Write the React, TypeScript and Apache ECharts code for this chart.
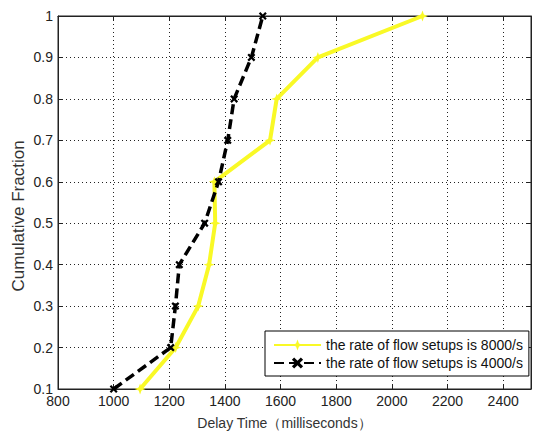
import React, { useEffect, useRef } from "react";
import * as echarts from "echarts";

const fractions = [0.1, 0.2, 0.3, 0.4, 0.5, 0.6, 0.7, 0.8, 0.9, 1.0];
const delay8000 = [1095, 1223, 1304, 1343, 1365, 1362, 1562, 1586, 1734, 2110];
const delay4000 = [1000, 1205, 1222, 1236, 1327, 1377, 1410, 1433, 1495, 1536];
const seriesNames = ["the rate of flow setups is 8000/s", "the rate of flow setups is 4000/s"];
const xTitle = "Delay Time（milliseconds）";
const yTitle = "Cumulative Fraction";

const FONT = "'Liberation Sans', Arial, sans-serif";

export default function App() {
  const ref = useRef<HTMLDivElement>(null);
  useEffect(() => {
    document.body.style.margin = "0";
    if (!ref.current) return;
    const chart = echarts.init(ref.current, null, { renderer: "svg" });
    const starPath = "path://M5,0L6.3,3.7L10,5L6.3,6.3L5,10L3.7,6.3L0,5L3.7,3.7Z";
    const xPath = "path://M2,0L5,3L8,0L10,2L7,5L10,8L8,10L5,7L2,10L0,8L3,5L0,2Z";
    const yellow = "#f9f926";
    chart.setOption({
      animation: false,
      backgroundColor: "#fff",
      textStyle: { fontFamily: FONT },
      grid: {
        left: 58,
        top: 16,
        right: -5,
        bottom: 40,
        show: true,
        borderColor: "#222",
        borderWidth: 1,
        backgroundColor: "#fff",
      },
      graphic: [
        {
          type: "text",
          x: 18,
          y: 216,
          rotation: Math.PI / 2,
          style: {
            text: yTitle,
            fontSize: 17,
            fontFamily: FONT,
            fill: "#333",
            align: "center",
            verticalAlign: "middle",
          },
        },
      ],
      legend: {
        orient: "vertical",
        left: 265,
        top: 331,
        itemWidth: 47,
        itemHeight: 14,
        itemGap: 4,
        padding: [7, 6, 6, 8],
        borderColor: "#000",
        borderWidth: 1,
        borderRadius: 0,
        backgroundColor: "#fff",
        textStyle: { fontSize: 14, color: "#111", fontFamily: FONT },
        data: seriesNames,
      },
      xAxis: [
        {
          type: "value",
          min: 800,
          max: 2500,
          interval: 200,
          position: "bottom",
          name: xTitle,
          nameLocation: "middle",
          nameGap: 27,
          nameTextStyle: { fontSize: 14, color: "#333", padding: [0, 20, 0, 0], fontFamily: FONT },
          axisLine: { show: true, lineStyle: { color: "#222", width: 1 } },
          axisTick: { show: true, inside: true, length: 5, lineStyle: { color: "#222" } },
          axisLabel: {
            fontSize: 14,
            color: "#222",
            margin: 5,
            fontFamily: FONT,
            formatter: (v: number) => (v > 2400 ? "" : String(v)),
          },
          splitLine: { show: true, lineStyle: { color: "#222", type: [1, 3], width: 1 } },
        },
        {
          type: "value",
          min: 800,
          max: 2500,
          interval: 200,
          position: "top",
          axisLine: { show: true, lineStyle: { color: "#222", width: 1 } },
          axisTick: { show: true, inside: true, length: 5, lineStyle: { color: "#222" } },
          axisLabel: { show: false },
          splitLine: { show: false },
        },
      ],
      yAxis: [
        {
          type: "value",
          min: 0.1,
          max: 1,
          interval: 0.1,
          axisLine: { show: true, lineStyle: { color: "#222", width: 1 } },
          axisTick: { show: true, inside: true, length: 5, lineStyle: { color: "#222" } },
          axisLabel: {
            fontSize: 14,
            color: "#222",
            margin: 5,
            fontFamily: FONT,
            formatter: (v: number) => String(Math.round(v * 10) / 10),
          },
          splitLine: { show: true, lineStyle: { color: "#222", type: [1, 3], width: 1 } },
        },
        {
          type: "value",
          min: 0.1,
          max: 1,
          interval: 0.1,
          position: "right",
          axisLine: { show: true, lineStyle: { color: "#222", width: 1 } },
          axisTick: { show: true, inside: true, length: 5 },
          axisLabel: { show: false },
          splitLine: { show: false },
        },
      ],
      series: [
        {
          name: seriesNames[0],
          type: "line",
          data: delay8000.map((d, i) => [d, fractions[i]]),
          symbol: starPath,
          symbolSize: 11,
          showSymbol: true,
          lineStyle: { color: yellow, width: 4 },
          itemStyle: { color: yellow },
          z: 2,
        },
        {
          name: seriesNames[1],
          type: "line",
          data: delay4000.map((d, i) => [d, fractions[i]]),
          symbol: xPath,
          symbolSize: 8,
          showSymbol: true,
          lineStyle: { color: "#000", width: 3.5, type: [10, 5] },
          itemStyle: { color: "#000" },
          z: 3,
        },
      ],
    });
    return () => chart.dispose();
  }, []);
  return <div ref={ref} style={{ width: 534, height: 435 }} />;
}
